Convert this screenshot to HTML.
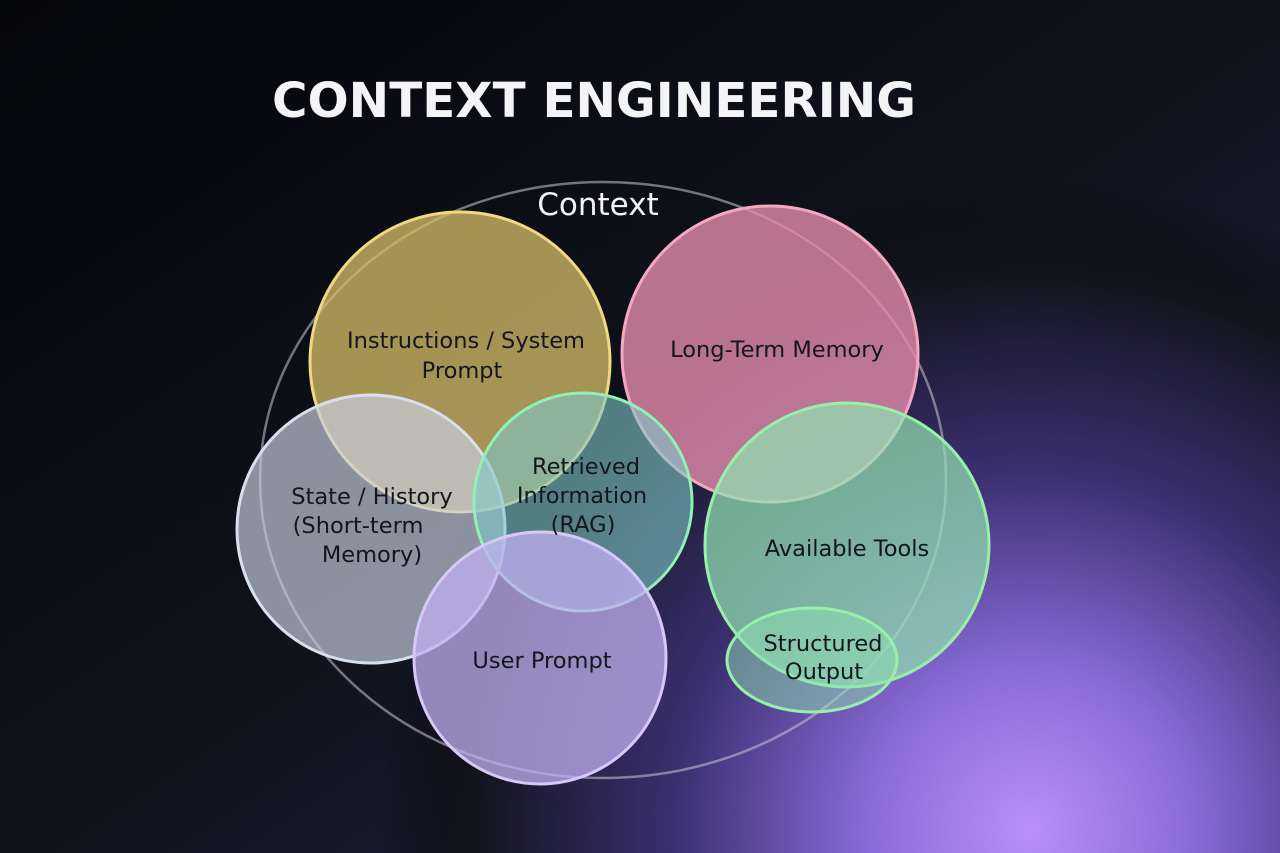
<!DOCTYPE html>
<html><head><meta charset="utf-8"><style>
html,body{margin:0;padding:0;}
body{width:1280px;height:853px;overflow:hidden;background:#07080c;}
svg{display:block;}
text{font-family:"DejaVu Sans","Liberation Sans",sans-serif;}
</style></head><body>
<svg width="1280" height="853" viewBox="0 0 1280 853">
<defs>
<radialGradient id="glow" cx="1030" cy="830" r="650" gradientUnits="userSpaceOnUse">
<stop offset="0" stop-color="#b890f8"/>
<stop offset="0.25" stop-color="#8a6ad8"/>
<stop offset="0.55" stop-color="#3a3070"/>
<stop offset="0.85" stop-color="#14141f"/>
<stop offset="1" stop-color="#07080c" stop-opacity="0"/>
</radialGradient>
<linearGradient id="base" x1="0" y1="0" x2="1" y2="1">
<stop offset="0" stop-color="#05060a"/>
<stop offset="0.5" stop-color="#10121c"/>
<stop offset="1" stop-color="#2a2450"/>
</linearGradient>
</defs>
<rect width="1280" height="853" fill="url(#base)"/>
<rect width="1280" height="853" fill="url(#glow)"/>
<text x="594" y="117" text-anchor="middle" font-size="48" font-weight="bold" fill="#f4f4f6" textLength="644" lengthAdjust="spacingAndGlyphs">CONTEXT ENGINEERING</text>
<ellipse cx="603" cy="480" rx="343" ry="298" fill="none" stroke="#c8c8d8" stroke-opacity="0.55" stroke-width="2.5"/>
<text x="598" y="215" text-anchor="middle" font-size="31" fill="#f2f2f4">Context</text>

<circle cx="460" cy="362" r="150" fill="#d8c06a" fill-opacity="0.75" stroke="#f0d880" stroke-width="3"/>
<circle cx="770" cy="354" r="148" fill="#e48cac" fill-opacity="0.8" stroke="#f4a8c0" stroke-width="3"/>
<circle cx="371" cy="529" r="134" fill="#c8cee0" fill-opacity="0.68" stroke="#d8e0f0" stroke-width="3"/>
<circle cx="583" cy="502" r="109" fill="#80c8c8" fill-opacity="0.6" stroke="#90f0b8" stroke-width="3"/>
<circle cx="847" cy="545" r="142" fill="#90e0b0" fill-opacity="0.72" stroke="#98f0a8" stroke-width="3"/>
<circle cx="540" cy="658" r="126" fill="#c0b0f0" fill-opacity="0.75" stroke="#d8c8f8" stroke-width="3"/>
<ellipse cx="812" cy="660" rx="85" ry="52" fill="#90e0b0" fill-opacity="0.5" stroke="#98f0a8" stroke-width="3"/>

<g font-size="22.5" fill="#14161e" text-anchor="middle">
<text x="466" y="348">Instructions / System</text>
<text x="462" y="378">Prompt</text>
<text x="777" y="357">Long-Term Memory</text>
<text x="372" y="504">State / History</text>
<text x="358" y="533">(Short-term</text>
<text x="372" y="562">Memory)</text>
<text x="586" y="474">Retrieved</text>
<text x="582" y="503">Information</text>
<text x="583" y="532">(RAG)</text>
<text x="847" y="556">Available Tools</text>
<text x="542" y="668">User Prompt</text>
<text x="823" y="651">Structured</text>
<text x="824" y="679">Output</text>
</g>
</svg>
</body></html>
